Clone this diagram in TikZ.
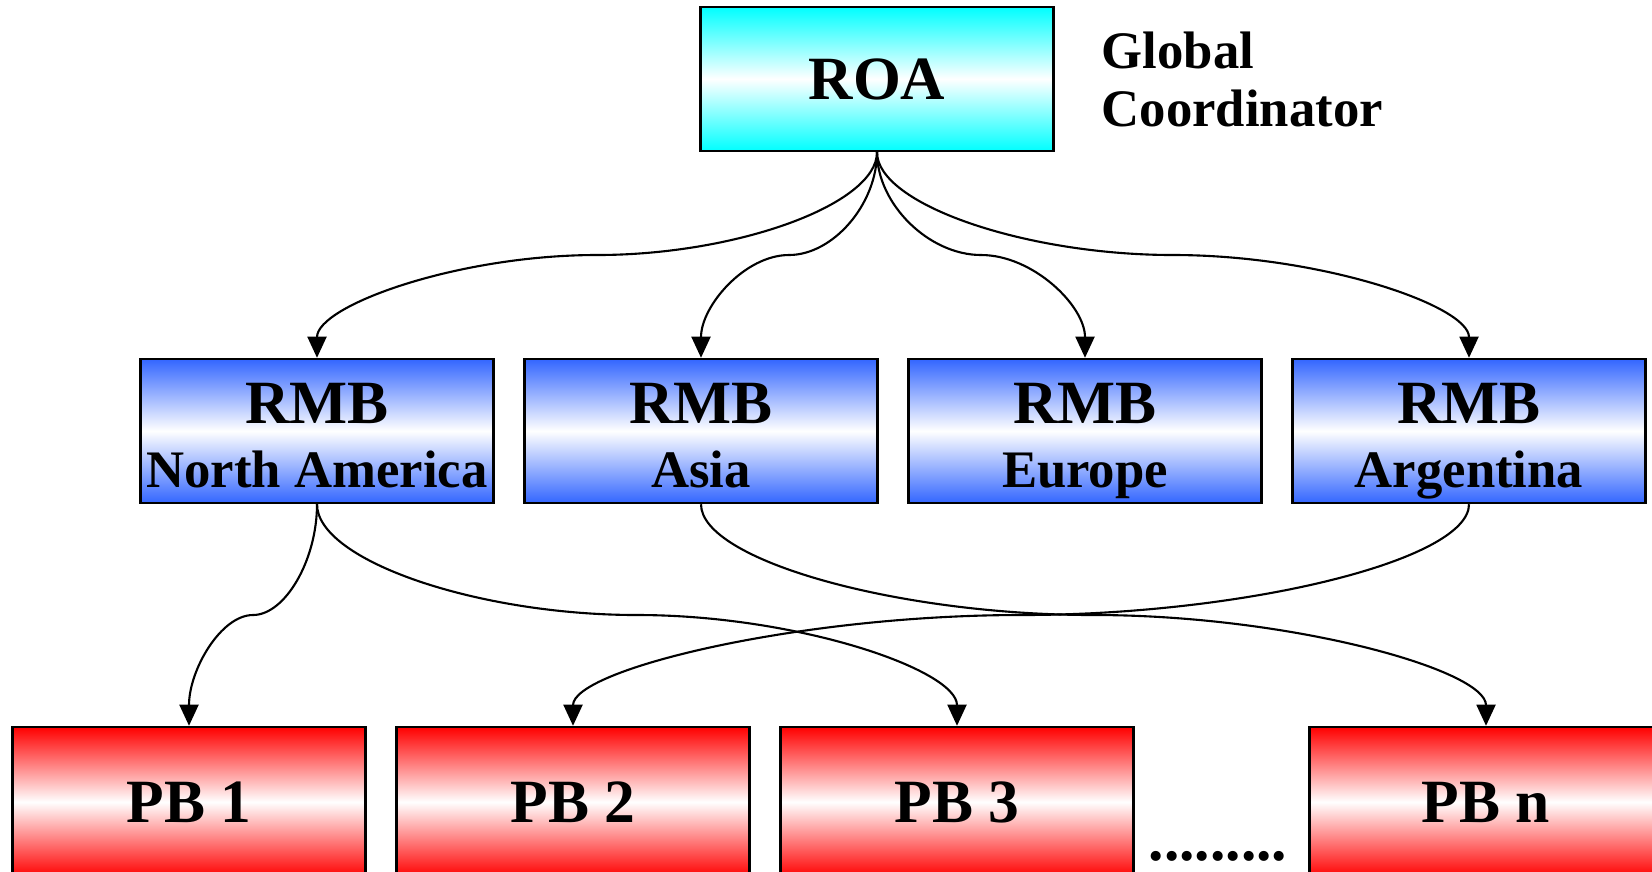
\documentclass[tikz,border=0pt]{standalone}
\usepackage{fontspec}
\setmainfont{Liberation Serif}
\usetikzlibrary{arrows.meta,calc}
\definecolor{rmbblue}{RGB}{51,102,255}
\begin{document}
\begin{tikzpicture}
	[box/.style={rectangle,draw,line width=0.7pt,minimum width=3.53cm,minimum height=1.44cm,inner sep=0pt,align=center,font=\bfseries\fontsize{17.5}{18.2}\selectfont},
	 roa/.style={box,top color=cyan,bottom color=cyan,middle color=white},
	 rmb/.style={box,text height=1.226cm,text depth=0.1cm,top color=rmbblue,bottom color=rmbblue,middle color=white},
	 pb/.style={box,minimum height=1.5cm,top color=red,bottom color=red,middle color=white},
	 big/.style={font=\bfseries\fontsize{15}{16.5}\selectfont},
	 link/.style={line width=0.6pt,->},
	 >={Triangle[length=6pt,width=5.4pt]}]
    \useasboundingbox (0,0) rectangle (16.52,-8.71);

    \node[roa] (ROA) at (8.77,-0.79) {ROA};
    \node[big,anchor=base west,align=left,inner sep=0pt] (GC) at (11.01,-1.264) {Global\\Coordinator};

    \node[rmb] (NA) at (3.17,-4.31) {RMB\\{\fontsize{15}{16}\selectfont North America}};
    \node[rmb] (AS) at (7.01,-4.31) {RMB\\{\fontsize{15}{16}\selectfont Asia}};
    \node[rmb] (EU) at (10.85,-4.31) {RMB\\{\fontsize{15}{16}\selectfont Europe}};
    \node[rmb] (AR) at (14.69,-4.31) {RMB\\{\fontsize{15}{16}\selectfont Argentina}};

    \node[pb] (PB1) at (1.89,-8.02) {PB 1};
    \node[pb] (PB2) at (5.73,-8.02) {PB 2};
    \node[pb] (PB3) at (9.57,-8.02) {PB 3};
    \node[pb] (PBn) at (14.86,-8.02) {PB n};
    \node[anchor=base,font=\bfseries\fontsize{17.5}{21}\selectfont] (dots) at (12.18,-8.60) {.........};

    \draw[link] (ROA.south) .. controls +(0,-0.52) and +(1.40,0) .. ($(ROA.south)!0.5!(NA.north)$) .. controls +(-1.40,0) and +(0,0.52) .. (NA.north);
    \draw[link] (ROA.south) .. controls +(0,-0.52) and +(0.44,0) .. ($(ROA.south)!0.5!(AS.north)$) .. controls +(-0.44,0) and +(0,0.52) .. (AS.north);
    \draw[link] (ROA.south) .. controls +(0,-0.52) and +(-0.52,0) .. ($(ROA.south)!0.5!(EU.north)$) .. controls +(0.52,0) and +(0,0.52) .. (EU.north);
    \draw[link] (ROA.south) .. controls +(0,-0.52) and +(-1.48,0) .. ($(ROA.south)!0.5!(AR.north)$) .. controls +(1.48,0) and +(0,0.52) .. (AR.north);

    \draw[link] (NA.south) .. controls +(0,-0.56) and +(0.32,0) .. ($(NA.south)!0.5!(PB1.north)$) .. controls +(-0.32,0) and +(0,0.56) .. (PB1.north);
    \draw[link] (NA.south) .. controls +(0,-0.56) and +(-1.60,0) .. ($(NA.south)!0.5!(PB3.north)$) .. controls +(1.60,0) and +(0,0.56) .. (PB3.north);
    \draw[link] (AS.south) .. controls +(0,-0.56) and +(-1.96,0) .. ($(AS.south)!0.5!(PBn.north)$) .. controls +(1.96,0) and +(0,0.56) .. (PBn.north);
    \draw[link] (AR.south) .. controls +(0,-0.56) and +(2.24,0) .. ($(AR.south)!0.5!(PB2.north)$) .. controls +(-2.24,0) and +(0,0.56) .. (PB2.north);

\end{tikzpicture}
\end{document}
